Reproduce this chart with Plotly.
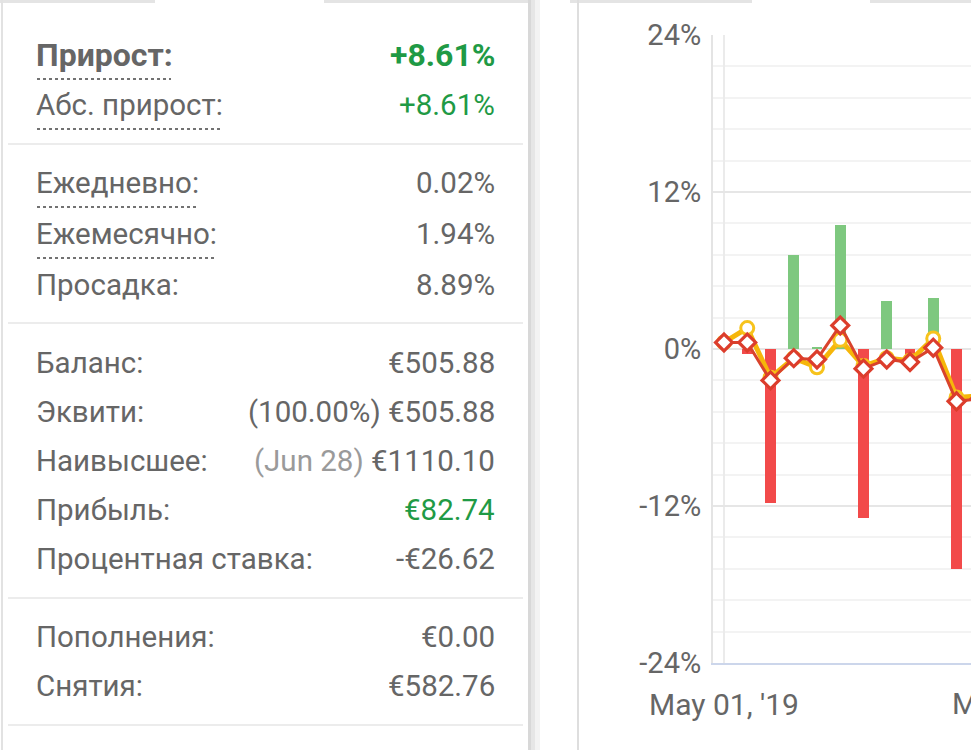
import plotly.graph_objects as go

W, H = 971, 750

# ---- stats panel data ----
stat_labels = ["Прирост:", "Абс. прирост:", "Ежедневно:", "Ежемесячно:", "Просадка:",
               "Баланс:", "Эквити:", "Наивысшее:", "Прибыль:", "Процентная ставка:",
               "Пополнения:", "Снятия:"]
stat_values = ["+8.61%", "+8.61%", "0.02%", "1.94%", "8.89%",
               "€505.88", "€505.88", "€1110.10", "€82.74", "-€26.62",
               "€0.00", "€582.76"]
stat_prefix = ["", "", "", "", "", "", "(100.00%) ", "(Jun 28) ", "", "", "", ""]

# ---- chart data ----
bar_vals = [None, -0.4, -11.8, 7.2, 0.15, 9.5, -12.9, 3.7, -1.0, 3.9, -16.8, None]
line_yellow = [0.5, 1.6, -2.2, -0.7, -1.4, 0.7, -1.3, -0.7, -0.9, 0.8, -3.7, -3.6]
line_red = [0.5, 0.5, -2.4, -0.7, -0.8, 1.8, -1.5, -0.8, -1.0, 0.1, -4.0, -3.8]
y_ticks = [-24, -12, 0, 12, 24]
x_tick_labels = ["May 01, '19", "M"]

xs = list(range(len(line_red)))


def px(x):
    return x / W


def py(y):
    return 1 - y / H


GRAY = "#666666"
GREEN = "#1f9a45"
FONT = "Roboto"

fig = go.Figure()

bar_colors = ["#7ec87f" if (v is not None and v >= 0) else "#f24a4a" for v in bar_vals]
fig.add_trace(go.Bar(x=xs, y=bar_vals, marker=dict(color=bar_colors, line=dict(width=0)),
                     width=0.47, showlegend=False, hoverinfo="skip"))
fig.add_trace(go.Scatter(x=xs, y=line_yellow, mode="lines+markers",
                         line=dict(color="#f6b60a", width=5),
                         marker=dict(symbol="circle", size=13, color="white",
                                     line=dict(color="#f7c31c", width=3)),
                         showlegend=False, hoverinfo="skip"))
fig.add_trace(go.Scatter(x=xs, y=line_red, mode="lines+markers",
                         line=dict(color="#d9432c", width=3),
                         marker=dict(symbol="diamond", size=13, color="white",
                                     line=dict(color="#dc3d2c", width=3.2)),
                         showlegend=False, hoverinfo="skip"))

shapes = []
annotations = []

# top tab strips
for x0, x1 in [(0, 155), (324, 528), (570, 752), (870, 971)]:
    shapes.append(dict(type="rect", xref="paper", yref="paper", x0=px(x0), x1=px(x1),
                       y0=py(3), y1=py(0), fillcolor="#e4e4e4", line=dict(width=0), layer="below"))

# left card borders + shadow
shapes.append(dict(type="line", xref="paper", yref="paper", x0=px(2), x1=px(2), y0=0, y1=1,
                   line=dict(color="#e2e2e2", width=2), layer="below"))
for x0, x1, c in [(528, 531, "#d8d8d8"), (531, 535, "#e6e6e6"), (535, 540, "#f3f3f3")]:
    shapes.append(dict(type="rect", xref="paper", yref="paper", x0=px(x0), x1=px(x1), y0=0, y1=1,
                       fillcolor=c, line=dict(width=0), layer="below"))
# right card border
shapes.append(dict(type="line", xref="paper", yref="paper", x0=px(578), x1=px(578), y0=0, y1=1,
                   line=dict(color="#dedede", width=2), layer="below"))

# separators
for yy in [144, 323, 598, 725]:
    shapes.append(dict(type="line", xref="paper", yref="paper", x0=px(8), x1=px(523),
                       y0=py(yy), y1=py(yy), line=dict(color="#ececec", width=2), layer="below"))

row_y = [55, 105, 183, 234, 285, 363, 412, 461, 510, 559, 637, 686]
dotted_end = {0: 171, 1: 221, 2: 197, 3: 215}
green_rows = {0, 1, 8}

for i, (lab, val) in enumerate(zip(stat_labels, stat_values)):
    bold = i == 0
    fs = 32 if bold else 29.5
    lab_txt = f"<b>{lab}</b>" if bold else lab
    annotations.append(dict(xref="paper", yref="paper", x=px(34), y=py(row_y[i]),
                            xanchor="left", yanchor="middle", text=lab_txt, showarrow=False,
                            font=dict(family=FONT, size=fs, color=GRAY)))
    vcol = GREEN if i in green_rows else GRAY
    vtxt = f"<b>{val}</b>" if bold else val
    if stat_prefix[i]:
        pcol = "#9a9a9a" if i == 7 else GRAY
        vtxt = f"<span style='color:{pcol}'>{stat_prefix[i]}</span>{vtxt}"
    annotations.append(dict(xref="paper", yref="paper", x=px(497), y=py(row_y[i]),
                            xanchor="right", yanchor="middle", text=vtxt, showarrow=False,
                            font=dict(family=FONT, size=fs, color=vcol)))
    if i in dotted_end:
        yy = row_y[i] + 24
        shapes.append(dict(type="line", xref="paper", yref="paper", x0=px(37), x1=px(dotted_end[i]),
                           y0=py(yy), y1=py(yy), line=dict(color="#444444", width=1.5, dash="dot")))

# second x label, only its first letter is visible at the right edge
annotations.append(dict(xref="paper", yref="paper", x=px(950), y=py(703),
                        xanchor="left", yanchor="middle", text=x_tick_labels[1], showarrow=False,
                        font=dict(family=FONT, size=30, color=GRAY)))

x0_range = -0.473
x1_range = x0_range + (W - 713) / 23.25

fig.update_layout(
    width=W, height=H, margin=dict(l=0, r=0, t=0, b=0, pad=0, autoexpand=False),
    paper_bgcolor="white", plot_bgcolor="white",
    shapes=shapes, annotations=annotations, bargap=0,
    xaxis=dict(domain=[713 / W, 1], range=[x0_range, x1_range],
               tickvals=[0], ticktext=[x_tick_labels[0]],
               showgrid=True, gridcolor="#ebebeb", gridwidth=2,
               showline=True, linecolor="#ccd6eb", linewidth=2,
               ticks="", zeroline=False, ticklabelstandoff=14, automargin=False,
               tickfont=dict(family=FONT, size=30, color=GRAY)),
    yaxis=dict(domain=[py(663), py(35)], range=[-24, 24],
               tickvals=y_ticks, ticktext=[f"{v}%" for v in y_ticks],
               showgrid=True, gridcolor="#e6e6e6", gridwidth=2,
               minor=dict(dtick=2.4, tick0=0, showgrid=True, gridcolor="#f3f3f3", gridwidth=1.5),
               showline=True, linecolor="#e4e4e4", linewidth=2,
               zeroline=False, ticks="", ticklabelstandoff=4, automargin=False,
               tickfont=dict(family=FONT, size=29, color=GRAY)),
)

fig.write_html("out.html")
